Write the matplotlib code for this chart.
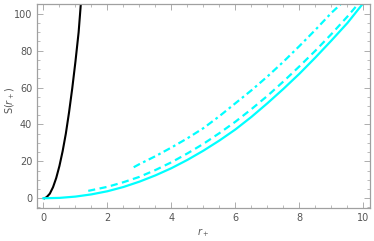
import matplotlib
matplotlib.use("Agg")
import matplotlib.pyplot as plt
from matplotlib.ticker import MultipleLocator

# Values
r_black = [0.03, 0.1, 0.2, 0.3, 0.4, 0.5, 0.6, 0.7, 0.8, 0.9, 1.0, 1.1, 1.17]
s_black = [0.0, 0.6, 2.5, 6.0, 11.0, 17.5, 25.5, 35.0, 46.5, 59.5, 74.0, 90.0, 105.6]

r_solid = [0.0, 0.5, 1.0, 1.5, 2.0, 2.5, 3.0, 3.5, 4.0, 4.5, 5.0, 5.5, 6.0,
           6.5, 7.0, 7.5, 8.0, 8.5, 9.0, 9.5, 9.96]
s_solid = [0.0, 0.2, 0.9, 2.1, 3.8, 6.1, 9.0, 12.4, 16.3, 20.8, 25.8, 31.3, 37.3,
           44.1, 51.5, 59.3, 67.5, 76.3, 85.5, 95.0, 105.0]

r_dashed = [1.4, 2.0, 2.5, 3.0, 3.5, 4.0, 4.5, 5.0, 5.5, 6.0, 6.5, 7.0, 7.5,
            8.0, 8.5, 9.0, 9.5, 9.82]
s_dashed = [4.0, 6.2, 8.7, 11.6, 15.3, 19.5, 24.3, 29.5, 35.3, 41.5, 48.3, 55.5, 63.3,
            71.5, 80.0, 89.0, 98.5, 105.0]

r_dashdot = [2.82, 3.0, 3.5, 4.0, 4.5, 5.0, 5.5, 6.0, 6.5, 7.0, 7.5, 8.0, 8.5, 9.0, 9.28]
s_dashdot = [16.8, 18.5, 22.8, 27.5, 32.5, 38.0, 44.5, 51.5, 58.5, 66.0, 74.0, 82.5, 91.3, 100.5, 105.0]

frame_col = "#a0a0a0"
text_col = "#555555"

fig = plt.figure(figsize=(3.74, 2.41), dpi=100)
ax = fig.add_axes([0.099, 0.136, 0.89, 0.847])

ax.plot(r_black, s_black, color="black", lw=1.5)
ax.plot(r_solid, s_solid, color="cyan", lw=1.6)
ax.plot(r_dashed, s_dashed, color="cyan", lw=1.6, dashes=(3.2, 2))
ax.plot(r_dashdot, s_dashdot, color="cyan", lw=1.6, dashes=(3.2, 1.6, 1.2, 1.6))

ax.set_xlim(-0.2, 10.2)
ax.set_ylim(-5.4, 105.2)
ax.xaxis.set_major_locator(MultipleLocator(2))
ax.xaxis.set_minor_locator(MultipleLocator(0.5))
ax.yaxis.set_major_locator(MultipleLocator(20))
ax.yaxis.set_minor_locator(MultipleLocator(5))

for s in ax.spines.values():
    s.set_color(frame_col)
    s.set_linewidth(0.9)
ax.tick_params(which="both", direction="in", top=True, right=True,
               color=frame_col, labelcolor=text_col, labelsize=7)
ax.tick_params(which="major", length=4, width=0.6)
ax.tick_params(which="minor", length=2, width=0.5)

ax.set_xlabel("$r_+$", color=text_col, fontsize=7, va="center")
ax.set_ylabel("S($r_+$)", color=text_col, fontsize=7, va="center")
ax.xaxis.set_label_coords(0.5, -0.118)
ax.yaxis.set_label_coords(-0.082, 0.53)

fig.savefig("out.png", dpi=100)
